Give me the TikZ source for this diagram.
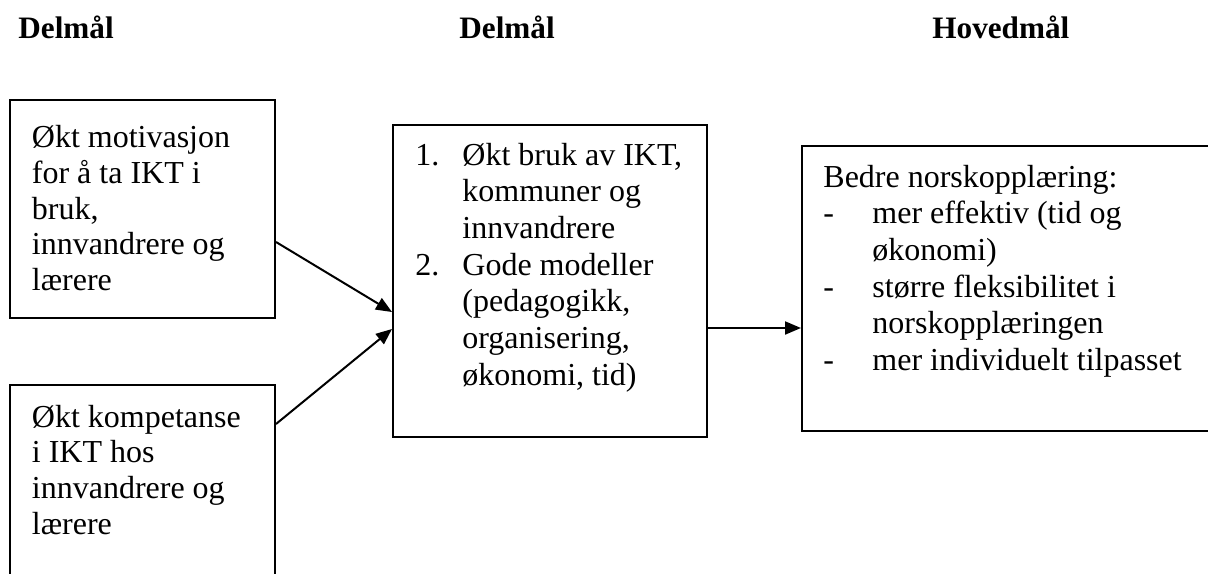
\documentclass[tikz,border=0pt]{standalone}
\usepackage{fontspec}
\setmainfont{Liberation Serif}
\usetikzlibrary{arrows.meta,calc,fit}
\newcommand{\bodyfont}{\fontsize{16pt}{18pt}\selectfont}
\newcommand{\headfont}{\fontsize{15.6pt}{18pt}\selectfont\bfseries}
\tikzset{
  box/.style={draw=black, line width=1pt, inner sep=0pt, fill=none},
  txt/.style={anchor=base west, inner sep=0pt, font=\bodyfont},
  head/.style={anchor=base west, inner sep=0pt, font=\headfont},
  conn/.style={draw=black, line width=1pt, -{Triangle[length=8pt,width=6.5pt]}}
}
\begin{document}
\begin{tikzpicture}[x=0.5pt,y=-0.5pt]
\useasboundingbox (0,0) rectangle (1208,573);
% headings
\node[head] (h1) at (18,39) {Delmål};
\node[head] (h2) at (459,39) {Delmål};
\node[head] (h3) at (932,39) {Hovedmål};
% boxes
\node[box, fit={(10,100) (275,318)}] (A) {};
\node[box, fit={(10,385) (275,620)}] (B) {};
\node[box, fit={(393,125) (707,437)}] (M) {};
\node[box, fit={(802,146) (1240,431)}] (R) {};
% box A text
\node[txt] (a1) at (31.5,147.5) {Økt motivasjon};
\node[txt] (a2) at (31.5,183.2) {for å ta IKT i};
\node[txt] (a3) at (31.5,219) {bruk,};
\node[txt] (a4) at (31.5,254.7) {innvandrere og};
\node[txt] (a5) at (31.5,290.5) {lærere};
% box B text
\node[txt] (b1) at (31.5,427) {Økt kompetanse};
\node[txt] (b2) at (31.5,462.7) {i IKT hos};
\node[txt] (b3) at (31.5,498.4) {innvandrere og};
\node[txt] (b4) at (31.5,534.1) {lærere};
% middle text
\node[txt] (m0) at (415,165) {1.};
\node[txt] (m1) at (462,165) {Økt bruk av IKT,};
\node[txt] (m2) at (462,201.7) {kommuner og};
\node[txt] (m3) at (462,238.3) {innvandrere};
\node[txt] (m4) at (415,275) {2.};
\node[txt] (m5) at (462,275) {Gode modeller};
\node[txt] (m6) at (462,311.7) {(pedagogikk,};
\node[txt] (m7) at (462,348.3) {organisering,};
\node[txt] (m8) at (462,385) {økonomi, tid)};
% right text
\node[txt] (r0) at (823,187) {Bedre norskopplæring:};
\node[txt] (r1d) at (823,223.5) {-};
\node[txt] (r1) at (872,223.5) {mer effektiv (tid og};
\node[txt] (r2) at (872,260) {økonomi)};
\node[txt] (r3d) at (823,297) {-};
\node[txt] (r3) at (872,297) {større fleksibilitet i};
\node[txt] (r4) at (872,333.5) {norskopplæringen};
\node[txt] (r5d) at (823,370) {-};
\node[txt] (r5) at (872,370) {mer individuelt tilpasset};
% connectors
\draw[conn] ($(A.north east)+(0,143)$) -- ($(M.north west)+(0,188)$);
\draw[conn] ($(B.north east)+(0,40)$) -- ($(M.north west)+(0,205)$);
\draw[conn] ($(M.north east)+(0,204)$) -- ($(R.north west)+(0,183)$);
\end{tikzpicture}
\end{document}
